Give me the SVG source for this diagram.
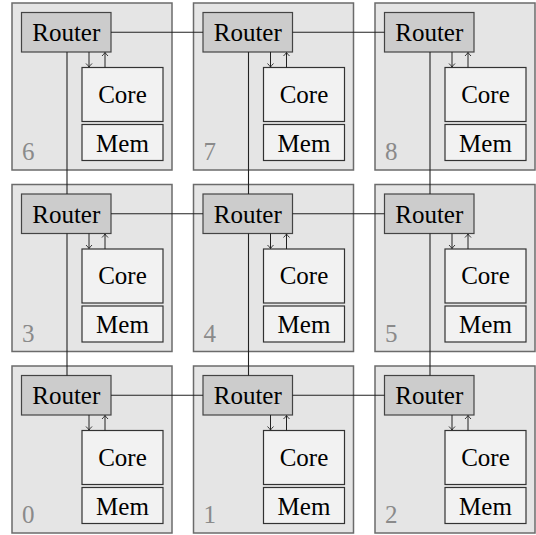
<svg xmlns="http://www.w3.org/2000/svg" width="536" height="535" viewBox="0 0 536 535">
<style>
.tile{fill:#e5e5e5;stroke:#6b6b6b;stroke-width:1.5}
.router{fill:#cccccc;stroke:#444;stroke-width:1.2}
.box{fill:#f2f2f2;stroke:#333;stroke-width:1.2}
text{font-family:'Liberation Serif','DejaVu Serif',serif;font-size:25px}
.t{fill:#000;text-anchor:middle}
.num{fill:#8a8a8a}
.link{stroke:#222;stroke-width:1.1;fill:none}
.arr{stroke:#222;stroke-width:1;fill:none;marker-end:url(#ah)}
</style>
<defs>
<marker id="ah" markerUnits="userSpaceOnUse" markerWidth="8" markerHeight="8" viewBox="-5 -4 6 8" refX="0" refY="0" orient="auto">
<path d="M-3.5,-3 Q-1.5,-1 0,0 Q-1.5,1 -3.5,3" fill="none" stroke="#222" stroke-width="0.9"/>
</marker>
</defs>
<g id="tile6" transform="translate(12,3)">
<rect class="tile" x="0" y="0" width="160" height="167"/>
<rect class="router" x="9.5" y="9.5" width="89.5" height="39.5"/>
<text class="t" x="54.25" y="38" font-family="Liberation Serif">Router</text>
<rect class="box" x="70" y="64.5" width="81" height="54"/>
<text class="t" x="110.5" y="99.5" font-family="Liberation Serif">Core</text>
<rect class="box" x="70" y="121.5" width="81" height="36"/>
<text class="t" x="110.5" y="148.5" font-family="Liberation Serif">Mem</text>
<line class="arr" x1="77" y1="49" x2="77" y2="64"/>
<line class="arr" x1="93" y1="64.5" x2="93" y2="49.5"/>
<text class="num" x="10" y="157" font-family="Liberation Serif">6</text>
</g>
<g id="tile7" transform="translate(193.5,3)">
<rect class="tile" x="0" y="0" width="160" height="167"/>
<rect class="router" x="9.5" y="9.5" width="89.5" height="39.5"/>
<text class="t" x="54.25" y="38" font-family="Liberation Serif">Router</text>
<rect class="box" x="70" y="64.5" width="81" height="54"/>
<text class="t" x="110.5" y="99.5" font-family="Liberation Serif">Core</text>
<rect class="box" x="70" y="121.5" width="81" height="36"/>
<text class="t" x="110.5" y="148.5" font-family="Liberation Serif">Mem</text>
<line class="arr" x1="77" y1="49" x2="77" y2="64"/>
<line class="arr" x1="93" y1="64.5" x2="93" y2="49.5"/>
<text class="num" x="10" y="157" font-family="Liberation Serif">7</text>
</g>
<g id="tile8" transform="translate(375,3)">
<rect class="tile" x="0" y="0" width="160" height="167"/>
<rect class="router" x="9.5" y="9.5" width="89.5" height="39.5"/>
<text class="t" x="54.25" y="38" font-family="Liberation Serif">Router</text>
<rect class="box" x="70" y="64.5" width="81" height="54"/>
<text class="t" x="110.5" y="99.5" font-family="Liberation Serif">Core</text>
<rect class="box" x="70" y="121.5" width="81" height="36"/>
<text class="t" x="110.5" y="148.5" font-family="Liberation Serif">Mem</text>
<line class="arr" x1="77" y1="49" x2="77" y2="64"/>
<line class="arr" x1="93" y1="64.5" x2="93" y2="49.5"/>
<text class="num" x="10" y="157" font-family="Liberation Serif">8</text>
</g>
<g id="tile3" transform="translate(12,184.5)">
<rect class="tile" x="0" y="0" width="160" height="167"/>
<rect class="router" x="9.5" y="9.5" width="89.5" height="39.5"/>
<text class="t" x="54.25" y="38" font-family="Liberation Serif">Router</text>
<rect class="box" x="70" y="64.5" width="81" height="54"/>
<text class="t" x="110.5" y="99.5" font-family="Liberation Serif">Core</text>
<rect class="box" x="70" y="121.5" width="81" height="36"/>
<text class="t" x="110.5" y="148.5" font-family="Liberation Serif">Mem</text>
<line class="arr" x1="77" y1="49" x2="77" y2="64"/>
<line class="arr" x1="93" y1="64.5" x2="93" y2="49.5"/>
<text class="num" x="10" y="157" font-family="Liberation Serif">3</text>
</g>
<g id="tile4" transform="translate(193.5,184.5)">
<rect class="tile" x="0" y="0" width="160" height="167"/>
<rect class="router" x="9.5" y="9.5" width="89.5" height="39.5"/>
<text class="t" x="54.25" y="38" font-family="Liberation Serif">Router</text>
<rect class="box" x="70" y="64.5" width="81" height="54"/>
<text class="t" x="110.5" y="99.5" font-family="Liberation Serif">Core</text>
<rect class="box" x="70" y="121.5" width="81" height="36"/>
<text class="t" x="110.5" y="148.5" font-family="Liberation Serif">Mem</text>
<line class="arr" x1="77" y1="49" x2="77" y2="64"/>
<line class="arr" x1="93" y1="64.5" x2="93" y2="49.5"/>
<text class="num" x="10" y="157" font-family="Liberation Serif">4</text>
</g>
<g id="tile5" transform="translate(375,184.5)">
<rect class="tile" x="0" y="0" width="160" height="167"/>
<rect class="router" x="9.5" y="9.5" width="89.5" height="39.5"/>
<text class="t" x="54.25" y="38" font-family="Liberation Serif">Router</text>
<rect class="box" x="70" y="64.5" width="81" height="54"/>
<text class="t" x="110.5" y="99.5" font-family="Liberation Serif">Core</text>
<rect class="box" x="70" y="121.5" width="81" height="36"/>
<text class="t" x="110.5" y="148.5" font-family="Liberation Serif">Mem</text>
<line class="arr" x1="77" y1="49" x2="77" y2="64"/>
<line class="arr" x1="93" y1="64.5" x2="93" y2="49.5"/>
<text class="num" x="10" y="157" font-family="Liberation Serif">5</text>
</g>
<g id="tile0" transform="translate(12,366)">
<rect class="tile" x="0" y="0" width="160" height="167"/>
<rect class="router" x="9.5" y="9.5" width="89.5" height="39.5"/>
<text class="t" x="54.25" y="38" font-family="Liberation Serif">Router</text>
<rect class="box" x="70" y="64.5" width="81" height="54"/>
<text class="t" x="110.5" y="99.5" font-family="Liberation Serif">Core</text>
<rect class="box" x="70" y="121.5" width="81" height="36"/>
<text class="t" x="110.5" y="148.5" font-family="Liberation Serif">Mem</text>
<line class="arr" x1="77" y1="49" x2="77" y2="64"/>
<line class="arr" x1="93" y1="64.5" x2="93" y2="49.5"/>
<text class="num" x="10" y="157" font-family="Liberation Serif">0</text>
</g>
<g id="tile1" transform="translate(193.5,366)">
<rect class="tile" x="0" y="0" width="160" height="167"/>
<rect class="router" x="9.5" y="9.5" width="89.5" height="39.5"/>
<text class="t" x="54.25" y="38" font-family="Liberation Serif">Router</text>
<rect class="box" x="70" y="64.5" width="81" height="54"/>
<text class="t" x="110.5" y="99.5" font-family="Liberation Serif">Core</text>
<rect class="box" x="70" y="121.5" width="81" height="36"/>
<text class="t" x="110.5" y="148.5" font-family="Liberation Serif">Mem</text>
<line class="arr" x1="77" y1="49" x2="77" y2="64"/>
<line class="arr" x1="93" y1="64.5" x2="93" y2="49.5"/>
<text class="num" x="10" y="157" font-family="Liberation Serif">1</text>
</g>
<g id="tile2" transform="translate(375,366)">
<rect class="tile" x="0" y="0" width="160" height="167"/>
<rect class="router" x="9.5" y="9.5" width="89.5" height="39.5"/>
<text class="t" x="54.25" y="38" font-family="Liberation Serif">Router</text>
<rect class="box" x="70" y="64.5" width="81" height="54"/>
<text class="t" x="110.5" y="99.5" font-family="Liberation Serif">Core</text>
<rect class="box" x="70" y="121.5" width="81" height="36"/>
<text class="t" x="110.5" y="148.5" font-family="Liberation Serif">Mem</text>
<line class="arr" x1="77" y1="49" x2="77" y2="64"/>
<line class="arr" x1="93" y1="64.5" x2="93" y2="49.5"/>
<text class="num" x="10" y="157" font-family="Liberation Serif">2</text>
</g>
<g id="connectors">
<line class="link" x1="111" y1="32.25" x2="203" y2="32.25"/>
<line class="link" x1="292.5" y1="32.25" x2="384.5" y2="32.25"/>
<line class="link" x1="111" y1="213.75" x2="203" y2="213.75"/>
<line class="link" x1="292.5" y1="213.75" x2="384.5" y2="213.75"/>
<line class="link" x1="111" y1="395.25" x2="203" y2="395.25"/>
<line class="link" x1="292.5" y1="395.25" x2="384.5" y2="395.25"/>
<line class="link" x1="67" y1="52" x2="67" y2="194"/>
<line class="link" x1="67" y1="233.5" x2="67" y2="375.5"/>
<line class="link" x1="248.5" y1="52" x2="248.5" y2="194"/>
<line class="link" x1="248.5" y1="233.5" x2="248.5" y2="375.5"/>
<line class="link" x1="430" y1="52" x2="430" y2="194"/>
<line class="link" x1="430" y1="233.5" x2="430" y2="375.5"/>
</g>
</svg>
